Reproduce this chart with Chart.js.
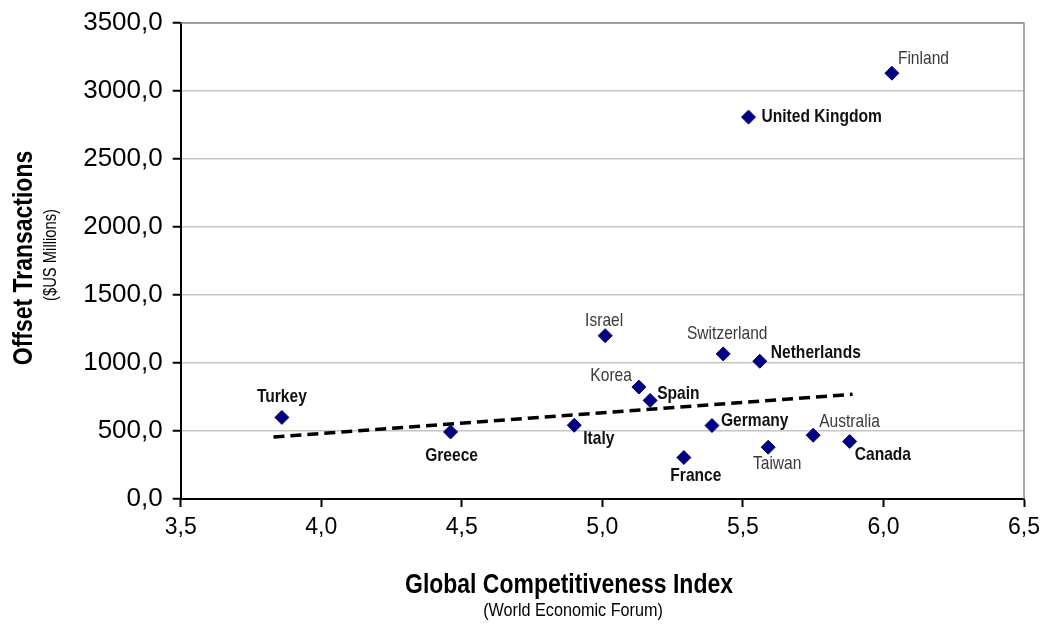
<!DOCTYPE html>
<html>
<head>
<meta charset="utf-8">
<style>
  html, body { margin: 0; padding: 0; background: #fff; }
  #board { width: 1047px; height: 628px; }
</style>
<script src="https://cdn.jsdelivr.net/npm/chart.js@4.4.0/dist/chart.umd.min.js"></script>
</head>
<body>
<div id="board"><canvas id="chart" width="1047" height="628"></canvas></div>
<script>
const countries = [
  "Turkey", "Greece", "Italy", "Israel", "Korea", "Spain", "France", "Germany",
  "Switzerland", "Netherlands", "Taiwan", "Australia", "Canada", "United Kingdom", "Finland",
];
const gci = [3.86, 4.46, 4.9, 5.01, 5.13, 5.17, 5.29, 5.39, 5.43, 5.56, 5.59, 5.75, 5.88, 5.52, 6.03];
const offsets = [600, 493, 542, 1201, 823, 725, 305, 540, 1067, 1013, 381, 469, 423, 2808, 3131];

const trendX = [3.83, 5.89];
const trendY = [456, 770];

const xTicks = [3.5, 4.0, 4.5, 5.0, 5.5, 6.0, 6.5];
const yTicks = [0, 500, 1000, 1500, 2000, 2500, 3000, 3500];

// where each label sits relative to its marker
const labelPos = {
  "Turkey": { dx: 0, dy: -21, align: "center", bold: true },
  "Greece": { dx: 1, dy: 24, align: "center", bold: true },
  "Italy": { dx: 9, dy: 13, align: "left", bold: true },
  "Israel": { dx: -1, dy: -15, align: "center", bold: false },
  "Korea": { dx: -7, dy: -11, align: "right", bold: false },
  "Spain": { dx: 7, dy: -7, align: "left", bold: true },
  "France": { dx: 12, dy: 18, align: "center", bold: true },
  "Germany": { dx: 9, dy: -5, align: "left", bold: true },
  "Switzerland": { dx: 4, dy: -20, align: "center", bold: false },
  "Netherlands": { dx: 11, dy: -8, align: "left", bold: true },
  "Taiwan": { dx: 9, dy: 17, align: "center", bold: false },
  "Australia": { dx: 6, dy: -13, align: "left", bold: false },
  "Canada": { dx: 5, dy: 13, align: "left", bold: true },
  "United Kingdom": { dx: 13, dy: 0, align: "left", bold: true },
  "Finland": { dx: 6, dy: -14, align: "left", bold: false },
};

const sans = "'Liberation Sans', Arial, sans-serif";
const comma = (v, d) => v.toFixed(d).replace(".", ",");

// Arial Narrow look: Liberation Sans squeezed horizontally
const narrowText = (ctx, text, x, y, align, font, sx) => {
  ctx.save();
  ctx.translate(x, y);
  ctx.scale(sx, 1);
  ctx.font = font;
  ctx.textAlign = align;
  ctx.textBaseline = "middle";
  ctx.fillText(text, 0, 0);
  ctx.restore();
};

const pointLabels = {
  id: "pointLabels",
  afterDatasetsDraw: (chart) => {
    const ctx = chart.ctx;
    const meta = chart.getDatasetMeta(0);
    meta.data.forEach((pt, i) => {
      const name = countries[i];
      const p = labelPos[name];
      ctx.fillStyle = p.bold ? "#111" : "#3a3a3a";
      narrowText(ctx, name, pt.x + p.dx, pt.y + p.dy, p.align, (p.bold ? "bold " : "") + "19px " + sans, 0.82);
    });
  },
};

const frame = {
  id: "frame",
  beforeDatasetsDraw: (chart) => {
    const ctx = chart.ctx;
    const a = chart.chartArea;
    ctx.save();
    ctx.strokeStyle = "#8c8c8c";
    ctx.lineWidth = 1.5;
    ctx.beginPath();
    ctx.moveTo(a.left, a.top);
    ctx.lineTo(a.right, a.top);
    ctx.lineTo(a.right, a.bottom);
    ctx.stroke();
    ctx.restore();
  },
  afterDraw: (chart) => {
    const ctx = chart.ctx;
    ctx.save();
    ctx.fillStyle = "#000";
    narrowText(ctx, "Global Competitiveness Index", 569, 585, "center", "bold 28px " + sans, 0.82);
    narrowText(ctx, "(World Economic Forum)", 573, 611, "center", "18px " + sans, 0.9);
    ctx.translate(24, 258);
    ctx.rotate(-Math.PI / 2);
    narrowText(ctx, "Offset Transactions", 0, 0, "center", "bold 28px " + sans, 0.82);
    narrowText(ctx, "($US Millions)", 3, 27, "center", "18px " + sans, 0.82);
    ctx.restore();
  },
};

const chart = new Chart(document.getElementById("chart"), {
  data: {
    datasets: [
      {
        type: "scatter",
        data: gci.map((x, i) => ({ x: x, y: offsets[i] })),
        backgroundColor: "#000080",
        borderColor: "#000080",
        pointStyle: "rectRot",
        pointRadius: 7,
        order: 0,
      },
      {
        type: "line",
        data: trendX.map((x, i) => ({ x: x, y: trendY[i] })),
        borderColor: "#000",
        borderWidth: 3.5,
        borderDash: [11, 6],
        pointRadius: 0,
        fill: false,
        order: 1,
      },
    ],
  },
  options: {
    responsive: false,
    animation: false,
    layout: { padding: { left: 0, right: 0, top: 13, bottom: 0 } },
    plugins: { legend: { display: false }, tooltip: { enabled: false } },
    scales: {
      x: {
        type: "linear",
        min: 3.5,
        max: 6.5,
        afterBuildTicks: (s) => { s.ticks = xTicks.map((v) => ({ value: v })); },
        afterFit: (s) => {
          s.height = 129;
          s.paddingRight = 23;
        },
        border: { color: "#000", width: 2 },
        grid: { drawOnChartArea: false, tickLength: 8, tickColor: "#000", tickWidth: 2 },
        ticks: {
          padding: 9,
          color: "#000",
          font: { family: sans, size: 23, lineHeight: 1 },
          callback: (v) => comma(v, 1),
        },
      },
      y: {
        type: "linear",
        min: 0,
        max: 3500,
        afterBuildTicks: (s) => { s.ticks = yTicks.map((v) => ({ value: v })); },
        afterFit: (s) => { s.width = 180.7; },
        border: { color: "#000", width: 2 },
        grid: { color: "#c4c4c4", lineWidth: 1.5, tickLength: 8, tickColor: "#000", tickWidth: 2 },
        ticks: {
          padding: 10,
          color: "#000",
          font: { family: sans, size: 26, lineHeight: 1 },
          callback: (v) => comma(v, 1),
        },
      },
    },
  },
  plugins: [frame, pointLabels],
});
</script>
</body>
</html>
